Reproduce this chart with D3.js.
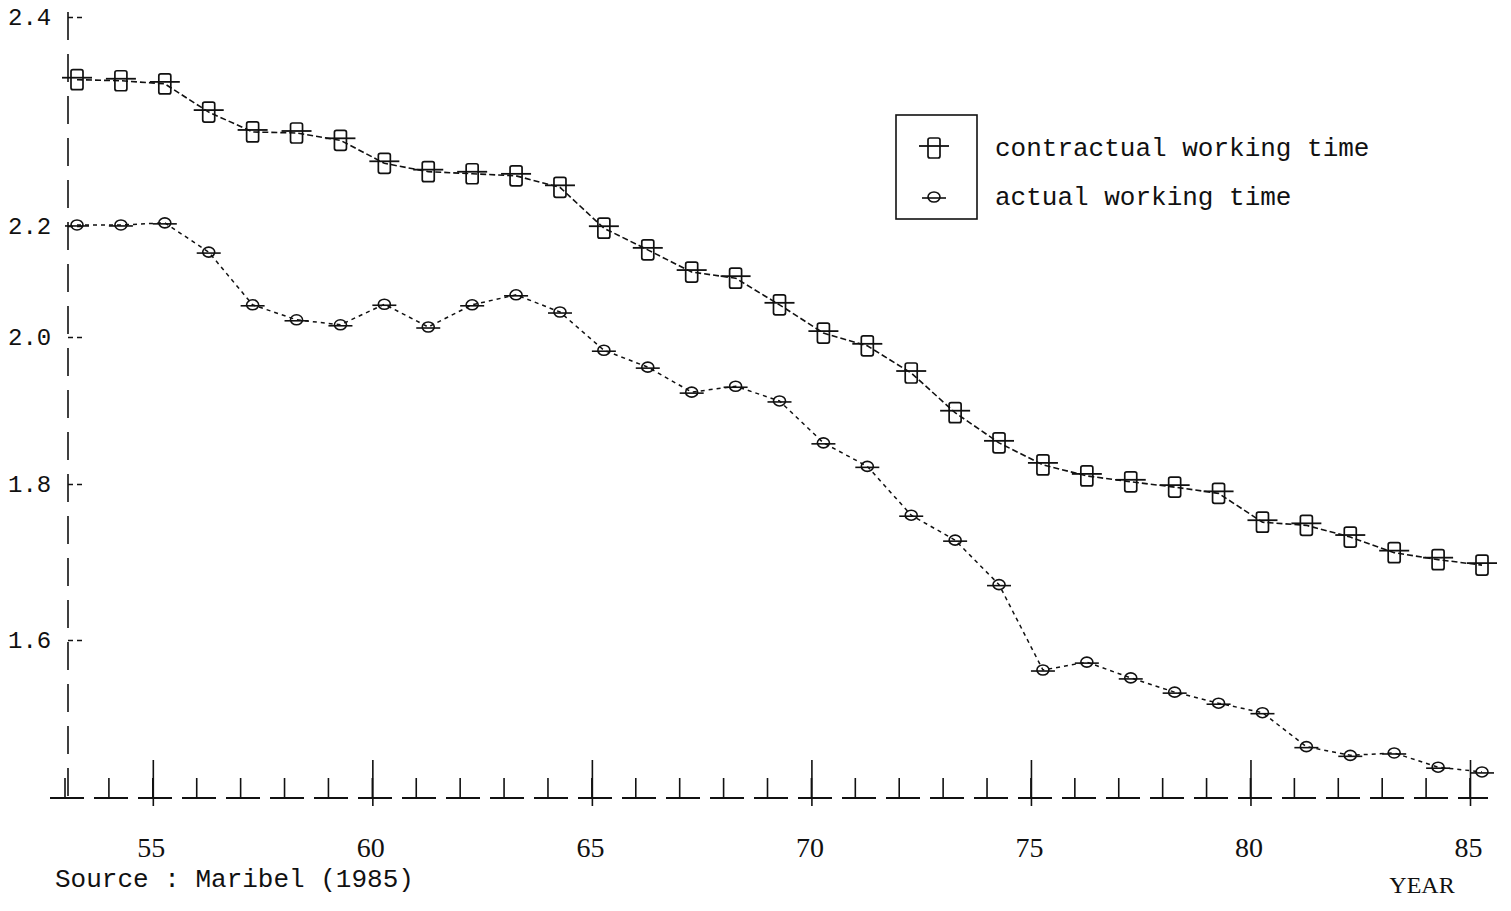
<!DOCTYPE html>
<html>
<head>
<meta charset="utf-8">
<script src="https://cdn.jsdelivr.net/npm/d3@7"></script>
<style>
  html, body { margin: 0; padding: 0; background: #fff; }
  svg { display: block; }
</style>
</head>
<body>
<svg id="chart" width="1511" height="911"></svg>
<script>
// ---------------- data ----------------
const years = [1953, 1954, 1955, 1956, 1957, 1958, 1959, 1960, 1961, 1962, 1963,
               1964, 1965, 1966, 1967, 1968, 1969, 1970, 1971, 1972, 1973, 1974,
               1975, 1976, 1977, 1978, 1979, 1980, 1981, 1982, 1983, 1984, 1985];

const contractual = [2.340, 2.339, 2.336, 2.309, 2.290, 2.289, 2.282, 2.260, 2.252, 2.250, 2.248,
                     2.237, 2.196, 2.157, 2.117, 2.106, 2.058, 2.007, 1.988, 1.951, 1.897, 1.856,
                     1.826, 1.811, 1.803, 1.796, 1.788, 1.751, 1.747, 1.732, 1.712, 1.703, 1.696];

const actual = [2.201, 2.201, 2.203, 2.153, 2.058, 2.031, 2.022, 2.059, 2.018, 2.058, 2.076,
                2.045, 1.982, 1.959, 1.925, 1.933, 1.913, 1.856, 1.824, 1.760, 1.728, 1.671,
                1.562, 1.572, 1.552, 1.534, 1.520, 1.508, 1.465, 1.454, 1.457, 1.439, 1.433];

const yTickValues = [2.4, 2.2, 2.0, 1.8, 1.6];
const yTickLabels = ["2.4", "2.2", "2.0", "1.8", "1.6"];
const xTickValues = [1955, 1960, 1965, 1970, 1975, 1980, 1985];
const xTickLabels = ["55", "60", "65", "70", "75", "80", "85"];
const seriesNames = ["contractual working time", "actual working time"];
const sourceText = "Source : Maribel (1985)";
const xTitle = "YEAR";

// ---------------- layout ----------------
const svg = d3.select("#chart");
const baseY = 798;
const axisX = 68;

const x = d3.scaleLinear().domain([1953, 1985]).range([77, 1482]);
// the printed value axis is unevenly spaced; follow its printed tick positions
const y = d3.scaleLinear()
  .domain([1.4, 1.6, 1.8, 2.0, 2.2, 2.4])
  .range([baseY, 640, 484, 337, 226, 17]);

const ink = "#111";

// ---------------- value axis ----------------
svg.append("line")
  .attr("x1", axisX).attr("x2", axisX)
  .attr("y1", 12).attr("y2", baseY + 4)
  .attr("stroke", ink).attr("stroke-width", 1.6)
  .attr("stroke-dasharray", "28,14");

const yAxis = d3.axisRight(y)
  .tickValues(yTickValues)
  .tickFormat(() => "")
  .tickSize(14)
  .tickSizeOuter(0);
const gy = svg.append("g").attr("transform", `translate(${axisX},0)`).call(yAxis);
gy.select(".domain").remove();
gy.selectAll(".tick line").attr("stroke", ink).attr("stroke-width", 1.4).attr("stroke-dasharray", "5,4");

svg.append("g").selectAll("text")
  .data(yTickValues)
  .join("text")
  .attr("x", 8)
  .attr("y", d => y(d))
  .attr("dy", "0.35em")
  .attr("font-family", "Liberation Mono, DejaVu Sans Mono, monospace")
  .attr("font-size", 24)
  .attr("fill", ink)
  .text((d, i) => yTickLabels[i]);

// ---------------- time axis ----------------
svg.append("line")
  .attr("x1", 50).attr("x2", 1488)
  .attr("y1", baseY).attr("y2", baseY)
  .attr("stroke", ink).attr("stroke-width", 2)
  .attr("stroke-dasharray", "34,10");

const tickShift = -12;
// yearly small ticks (upwards)
svg.append("g").selectAll("line")
  .data(years)
  .join("line")
  .attr("x1", d => x(d) + tickShift).attr("x2", d => x(d) + tickShift)
  .attr("y1", baseY).attr("y2", baseY - 20)
  .attr("stroke", ink).attr("stroke-width", 1.6);

const xAxis = d3.axisBottom(x)
  .tickValues(xTickValues)
  .tickFormat((d, i) => xTickLabels[i])
  .tickSize(12)
  .tickSizeOuter(0);
const gx = svg.append("g").attr("transform", `translate(${tickShift},${baseY})`).call(xAxis);
gx.select(".domain").remove();
gx.selectAll(".tick line")
  .attr("y1", -38).attr("y2", 8)
  .attr("stroke", ink).attr("stroke-width", 1.6);
gx.selectAll(".tick text")
  .attr("y", 0).attr("dy", 0)
  .attr("transform", "translate(-2,59)")
  .attr("font-family", "Liberation Serif, DejaVu Serif, serif")
  .attr("font-size", 28)
  .attr("fill", ink);

svg.append("text")
  .attr("x", 1422).attr("y", 893)
  .attr("text-anchor", "middle")
  .attr("font-family", "Liberation Serif, DejaVu Serif, serif")
  .attr("font-size", 24)
  .attr("fill", ink)
  .text(xTitle);

svg.append("text")
  .attr("x", 55).attr("y", 887)
  .attr("font-family", "Liberation Mono, DejaVu Sans Mono, monospace")
  .attr("font-size", 26)
  .attr("fill", ink)
  .text(sourceText);

// ---------------- series ----------------
const line = d3.line().x(d => x(d[0])).y(d => y(d[1]));
const cData = years.map((yr, i) => [yr, contractual[i]]);
const aData = years.map((yr, i) => [yr, actual[i]]);

svg.append("path")
  .datum(cData)
  .attr("d", line)
  .attr("fill", "none")
  .attr("stroke", ink).attr("stroke-width", 1.6)
  .attr("stroke-dasharray", "6,3");

svg.append("path")
  .datum(aData)
  .attr("d", line)
  .attr("fill", "none")
  .attr("stroke", ink).attr("stroke-width", 1.5)
  .attr("stroke-dasharray", "4,4");

function squareMarker(g) {
  g.append("line").attr("x1", -15).attr("x2", 15).attr("y1", -2).attr("y2", -2)
    .attr("stroke", ink).attr("stroke-width", 1.8);
  g.append("rect").attr("x", -6).attr("y", -10).attr("width", 12).attr("height", 20)
    .attr("rx", 2).attr("fill", "none").attr("stroke", ink).attr("stroke-width", 1.7);
}
function circleMarker(g) {
  g.append("line").attr("x1", -12).attr("x2", 12).attr("y1", 1).attr("y2", 1)
    .attr("stroke", ink).attr("stroke-width", 1.6);
  g.append("ellipse").attr("rx", 6).attr("ry", 5)
    .attr("fill", "none").attr("stroke", ink).attr("stroke-width", 1.6);
}

svg.append("g").selectAll("g")
  .data(cData)
  .join("g")
  .attr("transform", d => `translate(${x(d[0])},${y(d[1])})`)
  .each(function() { squareMarker(d3.select(this)); });

svg.append("g").selectAll("g")
  .data(aData)
  .join("g")
  .attr("transform", d => `translate(${x(d[0])},${y(d[1])})`)
  .each(function() { circleMarker(d3.select(this)); });

// ---------------- legend ----------------
const lg = svg.append("g");
lg.append("rect")
  .attr("x", 896).attr("y", 115).attr("width", 81).attr("height", 104)
  .attr("fill", "none").attr("stroke", ink).attr("stroke-width", 1.6);
const legendRows = [
  { name: seriesNames[0], cy: 148, marker: squareMarker },
  { name: seriesNames[1], cy: 197, marker: circleMarker }
];
legendRows.forEach(r => {
  const m = lg.append("g").attr("transform", `translate(934,${r.cy})`);
  r.marker(m);
  lg.append("text")
    .attr("x", 995).attr("y", r.cy)
    .attr("dy", "0.32em")
    .attr("font-family", "Liberation Mono, DejaVu Sans Mono, monospace")
    .attr("font-size", 26)
    .attr("fill", ink)
    .text(r.name);
});
</script>
</body>
</html>
